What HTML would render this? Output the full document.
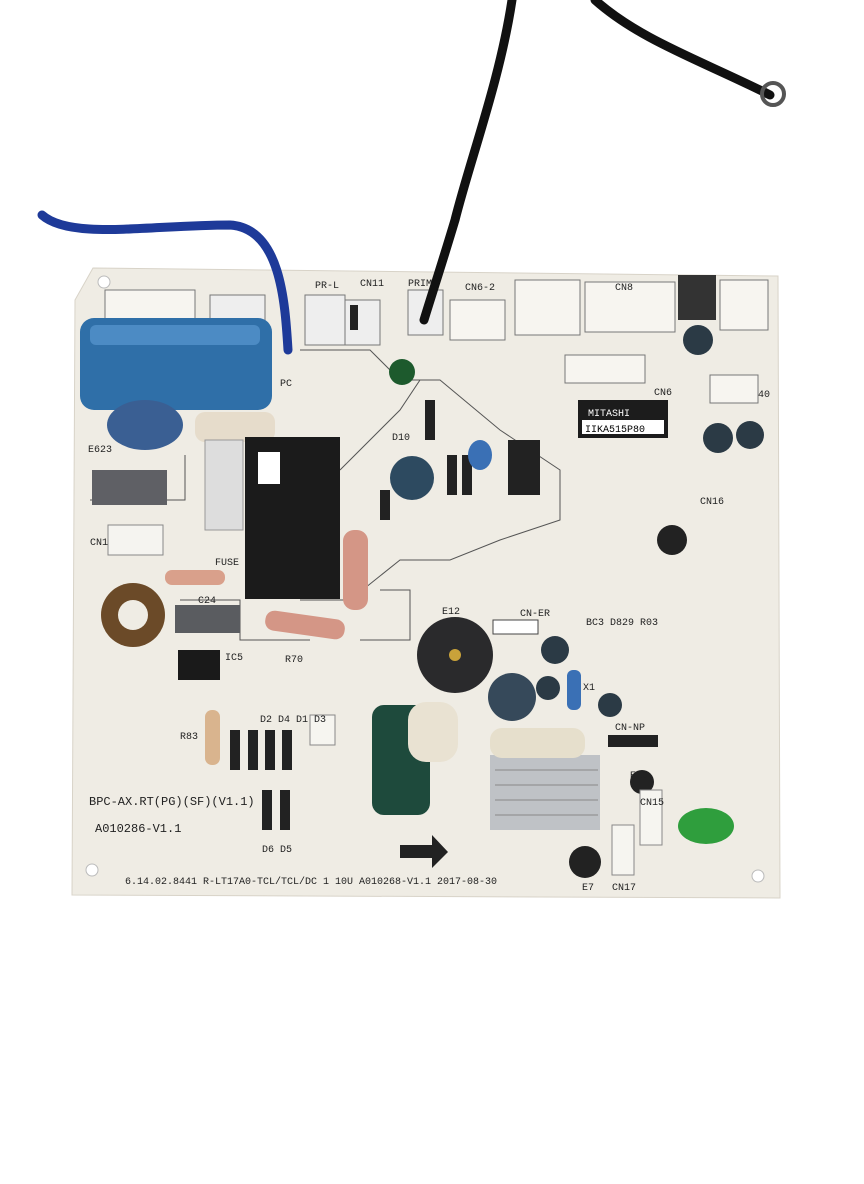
<!DOCTYPE html>
<html><head><meta charset="utf-8"><style>
html,body{margin:0;padding:0;background:#fff;}
svg{display:block;font-family:"Liberation Mono",monospace;}
</style></head><body>
<svg width="864" height="1184" viewBox="0 0 864 1184" xmlns="http://www.w3.org/2000/svg">
<rect width="864" height="1184" fill="#fff"/>
<!-- board -->
<path d="M93 268 L778 276 L780 898 L72 895 L75 300 Z" fill="#efece4" stroke="#d8d3c8"/>
<circle cx="104" cy="282" r="6" fill="#fff" stroke="#bbb"/>
<circle cx="760" cy="290" r="6" fill="#fff" stroke="#bbb"/>
<circle cx="92" cy="870" r="6" fill="#fff" stroke="#bbb"/>
<circle cx="758" cy="876" r="6" fill="#fff" stroke="#bbb"/>
<!-- traces outline -->
<g fill="none" stroke="#555" stroke-width="1">
<path d="M300 350 L370 350 L400 380 L440 380 L500 430 L560 470 L560 520 L500 540 L450 560 L400 560 L350 600 L300 600"/>
<path d="M340 470 L400 410 L420 380"/>
<path d="M185 455 L185 500 L90 500"/>
<path d="M180 600 L240 600 L240 640 L310 640"/>
<path d="M380 590 L410 590 L410 640 L360 640"/>
</g>
<!-- connectors top -->
<rect x="105" y="290" width="90" height="35" fill="#f7f5f0" stroke="#777"/>
<rect x="210" y="295" width="55" height="35" fill="#eee" stroke="#777"/>
<rect x="305" y="295" width="40" height="50" fill="#eee" stroke="#777"/>
<rect x="345" y="300" width="35" height="45" fill="#eee" stroke="#777"/>
<rect x="350" y="305" width="8" height="25" fill="#222"/>
<rect x="408" y="290" width="35" height="45" fill="#eee" stroke="#777"/>
<rect x="450" y="300" width="55" height="40" fill="#f7f5f0" stroke="#777"/>
<rect x="515" y="280" width="65" height="55" fill="#f7f5f0" stroke="#777"/>
<rect x="585" y="282" width="90" height="50" fill="#f7f5f0" stroke="#777"/>
<rect x="678" y="275" width="38" height="45" fill="#333"/>
<rect x="720" y="280" width="48" height="50" fill="#f7f5f0" stroke="#777"/>
<rect x="565" y="355" width="80" height="28" fill="#f7f5f0" stroke="#777"/>
<rect x="710" y="375" width="48" height="28" fill="#f7f5f0" stroke="#777"/>
<!-- blue capacitor -->
<rect x="80" y="318" width="192" height="92" rx="14" fill="#2f6fa8"/>
<rect x="90" y="325" width="170" height="20" rx="6" fill="#4c8bc4"/>
<ellipse cx="145" cy="425" rx="38" ry="25" fill="#3a5f93"/>
<rect x="195" y="412" width="80" height="30" rx="10" fill="#e6dccb"/>
<!-- fuse -->
<rect x="205" y="440" width="38" height="90" fill="#ddd" stroke="#999"/>
<!-- gray blocks -->
<rect x="92" y="470" width="75" height="35" fill="#5f6065"/>
<rect x="175" y="605" width="65" height="28" fill="#5a5c60"/>
<rect x="108" y="525" width="55" height="30" fill="#f5f4f0" stroke="#888"/>
<!-- relay -->
<rect x="245" y="437" width="95" height="162" fill="#1b1b1b"/>
<rect x="258" y="452" width="22" height="32" fill="#fff"/>
<!-- coil -->
<circle cx="133" cy="615" r="32" fill="#6b4a28"/>
<circle cx="133" cy="615" r="15" fill="#efece4"/>
<rect x="178" y="650" width="42" height="30" fill="#1a1a1a"/>
<!-- resistors -->
<rect x="165" y="570" width="60" height="15" rx="7" fill="#d9a08b"/>
<rect x="265" y="615" width="80" height="20" rx="9" fill="#d49686" transform="rotate(8 305 625)"/>
<rect x="343" y="530" width="25" height="80" rx="11" fill="#d49686"/>
<rect x="205" y="710" width="15" height="55" rx="7" fill="#d9b48e"/>
<!-- diodes -->
<g fill="#222"><rect x="230" y="730" width="10" height="40"/><rect x="248" y="730" width="10" height="40"/><rect x="265" y="730" width="10" height="40"/><rect x="282" y="730" width="10" height="40"/><rect x="262" y="790" width="10" height="40"/><rect x="280" y="790" width="10" height="40"/>
<rect x="425" y="400" width="10" height="40"/><rect x="447" y="455" width="10" height="40"/><rect x="462" y="455" width="10" height="40"/><rect x="380" y="490" width="10" height="30"/>
<rect x="508" y="440" width="32" height="55"/><rect x="608" y="735" width="50" height="12"/></g>
<!-- caps -->
<circle cx="412" cy="478" r="22" fill="#2d4a60"/>
<ellipse cx="480" cy="455" rx="12" ry="15" fill="#3a70b5"/>
<circle cx="402" cy="372" r="13" fill="#1d5a2d"/>
<circle cx="698" cy="340" r="15" fill="#2b3a45"/>
<circle cx="718" cy="438" r="15" fill="#2b3a45"/>
<circle cx="750" cy="435" r="14" fill="#2b3a45"/>
<circle cx="555" cy="650" r="14" fill="#2b3a45"/>
<circle cx="512" cy="697" r="24" fill="#36495a"/>
<circle cx="548" cy="688" r="12" fill="#2b3a45"/>
<circle cx="610" cy="705" r="12" fill="#2b3a45"/>
<rect x="567" y="670" width="14" height="40" rx="6" fill="#3a70b5"/>
<circle cx="672" cy="540" r="15" fill="#222"/>
<circle cx="642" cy="782" r="12" fill="#222"/>
<circle cx="585" cy="862" r="16" fill="#222"/>
<!-- buzzer -->
<circle cx="455" cy="655" r="38" fill="#2a2a2c"/>
<circle cx="455" cy="655" r="6" fill="#c9a23a"/>
<!-- green cap -->
<rect x="372" y="705" width="58" height="110" rx="12" fill="#1e4a3c"/>
<rect x="408" y="702" width="50" height="60" rx="18" fill="#e9e2d2"/>
<!-- heatsink -->
<rect x="490" y="755" width="110" height="75" fill="#bfc2c6"/>
<g stroke="#888"><line x1="495" y1="770" x2="598" y2="770"/><line x1="495" y1="785" x2="598" y2="785"/><line x1="495" y1="800" x2="598" y2="800"/><line x1="495" y1="815" x2="598" y2="815"/></g>
<rect x="490" y="728" width="95" height="30" rx="12" fill="#e6dfcc"/>
<!-- label -->
<rect x="578" y="400" width="90" height="38" fill="#1c1c1c"/>
<rect x="582" y="420" width="82" height="14" fill="#fff"/>
<text x="588" y="416" font-size="10" fill="#fff">MITASHI</text>
<text x="585" y="432" font-size="10" fill="#000">IIKA515P80</text>
<ellipse cx="706" cy="826" rx="28" ry="18" fill="#2f9e3d"/>
<rect x="612" y="825" width="22" height="50" fill="#f6f5f0" stroke="#888"/>
<rect x="640" y="790" width="22" height="55" fill="#f6f5f0" stroke="#888"/>
<rect x="310" y="715" width="25" height="30" fill="#f6f5f0" stroke="#888"/>
<rect x="493" y="620" width="45" height="14" fill="#fff" stroke="#444"/>
<path d="M400 845 L432 845 L432 835 L448 852 L432 868 L432 858 L400 858 Z" fill="#222"/>
<!-- text -->
<g font-size="10" fill="#222">
<text x="89" y="805" font-size="12">BPC-AX.RT(PG)(SF)(V1.1)</text>
<text x="95" y="832" font-size="12">A010286-V1.1</text>
<text x="125" y="884">6.14.02.8441  R-LT17A0-TCL/TCL/DC 1 10U  A010268-V1.1 2017-08-30</text>
<text x="408" y="286">PRIMD</text><text x="465" y="290">CN6-2</text><text x="615" y="290">CN8</text>
<text x="360" y="286">CN11</text><text x="315" y="288">PR-L</text>
<text x="280" y="386">PC</text><text x="654" y="395">CN6</text><text x="700" y="504">CN16</text>
<text x="520" y="616">CN-ER</text><text x="615" y="730">CN-NP</text><text x="640" y="805">CN15</text>
<text x="612" y="890">CN17</text><text x="582" y="890">E7</text><text x="630" y="778">E10</text>
<text x="285" y="662">R70</text><text x="225" y="660">IC5</text><text x="198" y="603">C24</text>
<text x="180" y="739">R83</text><text x="260" y="722">D2 D4 D1 D3</text><text x="262" y="852">D6 D5</text>
<text x="392" y="440">D10</text><text x="442" y="614">E12</text><text x="583" y="690">X1</text>
<text x="586" y="625">BC3 D829 R03</text><text x="758" y="397">40</text><text x="88" y="452">E623</text>
<text x="90" y="545">CN1</text><text x="215" y="565">FUSE</text>
</g>
<!-- cables -->
<path d="M42 215 C70 240 150 225 230 225 C280 228 285 300 288 350" fill="none" stroke="#1e3a99" stroke-width="9" stroke-linecap="round"/>
<path d="M512 0 C500 80 470 160 455 220 C440 270 430 300 424 320" fill="none" stroke="#111" stroke-width="9" stroke-linecap="round"/>
<path d="M595 0 C640 40 700 60 770 95" fill="none" stroke="#111" stroke-width="9" stroke-linecap="round"/>
<circle cx="773" cy="94" r="11" fill="none" stroke="#555" stroke-width="4"/>
</svg>
</body></html>
